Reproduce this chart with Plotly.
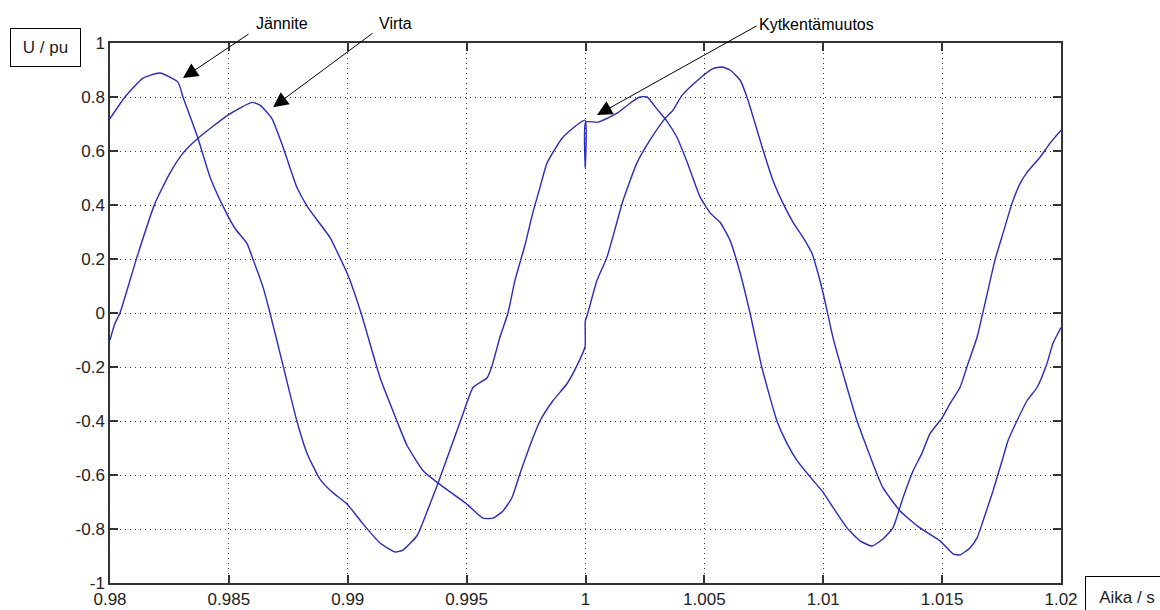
import plotly.graph_objects as go

# Jännite (voltage) trace
t_voltage = [0.98, 0.98063, 0.98139, 0.9821, 0.98286, 0.98307, 0.9837, 0.98421, 0.98484, 0.98526,
             0.98576, 0.98601, 0.98644, 0.98673, 0.98728, 0.98786, 0.98829, 0.98883, 0.98938, 0.98997,
             0.99064, 0.99136, 0.99199, 0.99232, 0.99291, 0.99346, 0.9938, 0.99485, 0.99527, 0.99586,
             0.99607, 0.9964, 0.99674, 0.99703, 0.99745, 0.99778, 0.99809, 0.99838, 0.99905, 0.99998,
             0.99999, 1.00001, 1.00053, 1.00133, 1.00187, 1.00229, 1.00259, 1.00301, 1.00343, 1.00385,
             1.00427, 1.00482, 1.00525, 1.00566, 1.00608, 1.0065, 1.00692, 1.00742, 1.00805, 1.00848,
             1.0089, 1.00957, 1.00995, 1.01041, 1.011, 1.01155, 1.01205, 1.01251, 1.01293, 1.01335,
             1.01378, 1.01415, 1.01449, 1.015, 1.01533, 1.01575, 1.01609, 1.01647, 1.0168, 1.01722,
             1.01756, 1.01794, 1.01828, 1.01857, 1.01912, 1.01954, 1.02]
u_voltage = [0.72, 0.80, 0.87, 0.889, 0.855, 0.80, 0.647, 0.503, 0.38, 0.313,
             0.258, 0.20, 0.095, 0.0, -0.195, -0.40, -0.52, -0.615, -0.666, -0.707,
             -0.781, -0.852, -0.885, -0.878, -0.825, -0.707, -0.63, -0.373, -0.276, -0.24,
             -0.195, -0.09, 0.0, 0.12, 0.25, 0.37, 0.466, 0.555, 0.651, 0.714,
             0.54, 0.707, 0.707, 0.74, 0.777, 0.80, 0.80, 0.755, 0.71, 0.65,
             0.56, 0.43, 0.37, 0.336, 0.269, 0.15, 0.0, -0.202, -0.399, -0.484,
             -0.547, -0.62, -0.659, -0.72, -0.796, -0.844, -0.863, -0.837, -0.796, -0.685,
             -0.584, -0.52, -0.447, -0.388, -0.336, -0.276, -0.187, -0.09, 0.035, 0.195,
             0.295, 0.406, 0.48, 0.521, 0.577, 0.629, 0.677]

# Virta (current) trace
t_current = [0.98, 0.9802, 0.98042, 0.98113, 0.98189, 0.98252, 0.98307, 0.9837, 0.98496, 0.98597,
             0.98631, 0.98681, 0.98728, 0.98786, 0.98833, 0.98925, 0.98959, 0.99001, 0.99056, 0.99136,
             0.99207, 0.99249, 0.99317, 0.9938, 0.995, 0.99569, 0.99611, 0.99653, 0.9969, 0.99724,
             0.99779, 0.99809, 0.99863, 0.99922, 0.99964, 0.99998, 0.99999, 1.0001, 1.00048, 1.0009,
             1.00158, 1.00216, 1.00271, 1.00334, 1.00368, 1.00405, 1.00473, 1.00536, 1.00574, 1.00608,
             1.0065, 1.00679, 1.00713, 1.00747, 1.00789, 1.00831, 1.00873, 1.00915, 1.00953, 1.00978,
             1.00999, 1.01016, 1.01041, 1.01071, 1.01104, 1.01142, 1.01184, 1.01209, 1.01251, 1.01323,
             1.01407, 1.01491, 1.01546, 1.01575, 1.01617, 1.01647, 1.01672, 1.01714, 1.01756, 1.01777,
             1.01815, 1.01857, 1.01899, 1.01941, 1.01966, 1.02]
i_current = [-0.10, -0.04, 0.0, 0.206, 0.406, 0.518, 0.592, 0.647, 0.733, 0.78,
             0.77, 0.72, 0.614, 0.466, 0.39, 0.28, 0.22, 0.14, 0.0, -0.24,
             -0.40, -0.49, -0.584, -0.63, -0.707, -0.76, -0.76, -0.733, -0.685, -0.596,
             -0.462, -0.399, -0.325, -0.262, -0.195, -0.125, -0.03, 0.0, 0.12, 0.206,
             0.417, 0.555, 0.64, 0.72, 0.751, 0.805, 0.863, 0.905, 0.911, 0.90,
             0.863, 0.80, 0.703, 0.603, 0.49, 0.406, 0.336, 0.28, 0.22, 0.147,
             0.075, 0.009, -0.091, -0.187, -0.288, -0.399, -0.5, -0.558, -0.647, -0.733,
             -0.796, -0.844, -0.892, -0.896, -0.87, -0.833, -0.77, -0.659, -0.536, -0.473,
             -0.399, -0.325, -0.276, -0.187, -0.113, -0.054]

x_ticks = [0.98, 0.985, 0.99, 0.995, 1.0, 1.005, 1.01, 1.015, 1.02]
x_tick_labels = ["0.98", "0.985", "0.99", "0.995", "1", "1.005", "1.01", "1.015", "1.02"]
y_ticks = [-1, -0.8, -0.6, -0.4, -0.2, 0, 0.2, 0.4, 0.6, 0.8, 1]
y_tick_labels = ["-1", "-0.8", "-0.6", "-0.4", "-0.2", "0", "0.2", "0.4", "0.6", "0.8", "1"]

LINE = "#2a2ac0"
FONT = "Liberation Sans, Arial, sans-serif"

fig = go.Figure()
fig.add_trace(go.Scatter(x=t_voltage, y=u_voltage, mode="lines", name="Jännite",
                         line=dict(color=LINE, width=1.4, shape="spline", smoothing=0.5)))
fig.add_trace(go.Scatter(x=t_current, y=i_current, mode="lines", name="Virta",
                         line=dict(color=LINE, width=1.4, shape="spline", smoothing=0.5)))

axis_common = dict(
    showline=True, linecolor="#333333", linewidth=1.5, mirror="ticks",
    ticks="inside", ticklen=8, tickcolor="#333333", tickwidth=1.5,
    showgrid=True, gridcolor="#333333", gridwidth=1, griddash="1px,4px",
    zeroline=False, automargin=False,
    tickfont=dict(family=FONT, size=17, color="#222222"),
)

fig.update_layout(
    width=1160, height=610, autosize=False,
    margin=dict(l=110, r=99, t=43, b=27),
    plot_bgcolor="white", paper_bgcolor="white",
    showlegend=False,
    font=dict(family=FONT, size=17, color="black"),
    xaxis=dict(range=[0.98, 1.02], tickvals=x_ticks, ticktext=x_tick_labels, **axis_common),
    yaxis=dict(range=[-1, 1], tickvals=y_ticks, ticktext=y_tick_labels, **axis_common),
)

def px_x(px):
    return (px - 110) / 951.0

def px_y(py):
    return (583 - py) / 540.0

arrows = [
    # (tip x data, tip y data, ax, ay)
    (0.98307, 0.870, 67, -45),
    (0.98686, 0.7625, 101, -75),
    (1.000484, 0.733, 161, -90),
]
for (x, y, ax, ay) in arrows:
    fig.add_annotation(x=x, y=y, xref="x", yref="y", ax=ax, ay=ay, text="",
                       showarrow=True, arrowhead=2, arrowsize=3, arrowwidth=1,
                       arrowcolor="black")

labels = [("Jännite", 254, 23), ("Virta", 377, 23), ("Kytkentämuutos", 757, 25)]
for (txt, lx, ly) in labels:
    fig.add_annotation(x=px_x(lx), y=px_y(ly), xref="paper", yref="paper", text=txt,
                       showarrow=False, xanchor="left", yanchor="middle",
                       font=dict(family=FONT, size=16, color="black"))

fig.add_annotation(x=px_x(45.5), y=px_y(47.5), xref="paper", yref="paper", text="U / pu",
                   showarrow=False, xanchor="center", yanchor="middle",
                   width=67, height=35, bordercolor="black", borderwidth=1, bgcolor="white",
                   font=dict(family=FONT, size=17, color="#222222"))
fig.add_annotation(x=px_x(1085), y=px_y(576), xref="paper", yref="paper", text="Aika / s",
                   showarrow=False, xanchor="left", yanchor="top",
                   width=80, height=38, bordercolor="black", borderwidth=1, bgcolor="white",
                   font=dict(family=FONT, size=17, color="#222222"))

fig.write_html("out.html")
